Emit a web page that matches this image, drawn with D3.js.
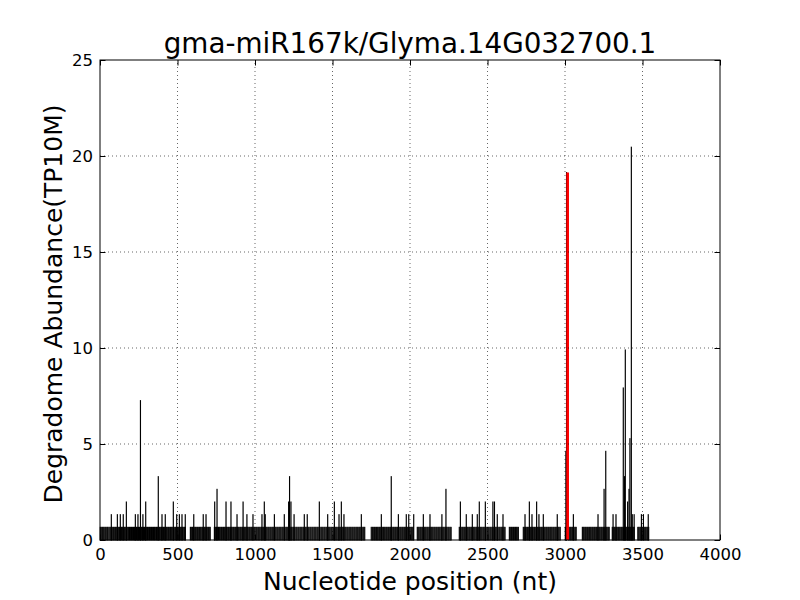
<!DOCTYPE html>
<html><head><meta charset="utf-8">
<script src="https://cdn.jsdelivr.net/npm/d3@7"></script>
<style>body{margin:0;background:#fff}</style>
</head><body>
<svg id="c" width="800" height="600"></svg>
<script>
const chartTitle = "gma-miR167k/Glyma.14G032700.1";
const xLabel = "Nucleotide position (nt)";
const yLabel = "Degradome Abundance(TP10M)";
const xTicks = [0, 500, 1000, 1500, 2000, 2500, 3000, 3500, 4000];
const yTicks = [0, 5, 10, 15, 20, 25];

// positions carrying a single read (abundance 0.66 TP10M)
const baseAbundance = 0.66;
const basePositions = [
  2,8,15,21,27,34,40,47,52,59,66,73,79,86,92,99,
  105,112,118,125,131,138,144,150,157,163,170,176,183,190,196,
  203,209,216,222,228,235,241,248,255,261,267,274,280,287,293,299,
  306,312,319,325,332,338,345,351,357,364,370,376,383,389,396,
  402,409,415,421,428,434,441,447,454,460,466,473,479,486,492,499,
  505,511,518,524,531,537,544,550,583,589,596,
  602,608,615,621,628,634,641,647,653,660,666,673,679,686,692,699,
  705,711,738,744,751,757,764,770,776,783,789,796,
  802,808,815,821,828,834,841,847,853,860,866,873,879,886,892,898,
  905,911,918,924,931,937,943,950,956,963,969,976,982,988,995,
  1001,1008,1014,1021,1027,1033,1040,1046,1053,1059,1066,1072,1078,1085,1091,1098,
  1104,1111,1117,1123,1130,1136,1143,1149,1156,1162,1168,1175,1181,1188,1194,
  1201,1207,1213,1220,1226,1233,1239,1246,1252,1258,1265,1271,1278,1284,1291,1297,
  1303,1310,1316,1323,1329,1336,1342,1348,1355,1361,1368,1374,1381,1387,1393,
  1400,1406,1413,1419,1426,1432,1438,1445,1451,1458,1464,1471,1477,1483,1490,1496,
  1503,1509,1516,1522,1528,1535,1541,1548,1554,1561,1567,1573,1580,1586,1593,1599,
  1606,1612,1618,1625,1631,1638,1644,1651,1657,1663,1670,1676,1683,1689,1696,
  1702,1708,1750,1757,1763,1770,1776,1783,1789,1795,
  1802,1808,1815,1821,1828,1834,1840,1847,1853,1860,1866,1873,1879,1885,1892,1898,
  1905,1911,1918,1924,1930,1937,1943,1950,1956,1963,1969,1975,1982,1988,1995,
  2001,2008,2014,2020,2047,2053,2059,2066,2072,2079,2085,2092,2098,
  2104,2111,2117,2124,2130,2137,2143,2149,2156,2162,2169,2175,2182,2188,2194,
  2201,2207,2214,2220,2227,2233,2239,2246,2252,2259,2265,
  2318,2324,2330,2337,2343,2350,2356,2363,2369,2375,2382,2388,2395,
  2401,2408,2414,2420,2427,2433,2440,2446,2453,2459,2465,2472,2478,2485,2491,2498,
  2504,2510,2517,2523,2530,2536,2543,2549,2555,2562,2568,2575,2581,2588,2594,
  2600,2607,2613,2641,2647,2654,2660,2667,2673,2680,2686,2692,2699,
  2731,2737,2744,2750,2757,2763,2770,2776,2782,2789,2795,
  2802,2808,2815,2821,2827,2834,2840,2847,2853,2860,2866,2872,2879,2885,2892,2898,
  2905,2911,2917,2924,2930,2937,2943,2950,2956,2962,2969,
  3002,3008,3021,3027,3034,3040,3047,3053,3059,3066,3072,
  3112,3118,3124,3131,3137,3144,3150,3157,3163,3169,3176,3182,3189,3195,
  3202,3208,3214,3221,3227,3234,3240,3247,3253,3259,3266,3272,3279,3285,
  3305,3311,3318,3324,3331,3337,3344,3350,3356,3363,3369,3376,3382,3389,3395,
  3401,3408,3414,3421,3427,3434,3440,3446,3470,3476,3483,3489,3496,
  3502,3509,3515,3521,3528,3534,3540
];

// positions with more than one read
const spikePositions = [
  73,112,131,150,170,228,245,261,277,295,376,400,421,473,495,512,529,550,605,666,684,740,755,
  813,845,884,923,948,987,1045,1060,1066,1125,1189,1217,1223,1232,1252,1318,1337,1415,1469,
  1512,1542,1557,1574,1686,1815,1879,1925,1976,1992,2024,2086,2129,2206,2232,2325,2363,2402,
  2434,2447,2486,2535,2545,2563,2600,2742,2770,2787,2817,2832,2860,2950,3006,3010,3054,3213,
  3252,3263,3310,3329,3376,3384,3389,3404,3413,3419,3428,3434,3446,3493,3506,3537
];
const spikeValues = [
  1.32,1.32,1.32,1.32,1.98,1.32,1.32,7.26,1.32,1.98,3.3,1.32,1.32,1.98,1.32,1.32,1.32,1.32,1.32,1.32,1.32,1.98,2.64,
  1.98,1.98,1.32,1.98,1.32,1.32,1.32,1.98,1.32,1.32,1.32,1.98,3.3,1.98,1.32,1.32,1.32,1.98,1.32,
  1.98,1.32,1.98,1.32,1.32,1.32,3.3,1.32,1.32,1.32,1.32,1.32,1.32,1.32,2.64,1.98,1.32,1.32,
  1.32,1.98,1.98,1.98,1.98,1.32,1.32,1.32,1.98,1.32,1.98,1.32,1.32,1.32,4.62,19.14,1.32,1.32,
  2.64,4.62,1.32,1.32,7.92,3.3,9.9,1.98,2.64,5.28,20.46,1.32,1.32,1.32,1.32,1.32
];

// predicted cleavage site
const cleavePosition = 3017;
const cleaveValue = 19.14;

const W = 800, H = 600;
const m = {left: 100, right: 80, top: 60, bottom: 60};
const svg = d3.select("#c");
const FONT = "DejaVu Sans, sans-serif";

const x = d3.scaleLinear().domain([0, 4000]).range([m.left, W - m.right]);
const y = d3.scaleLinear().domain([0, 25]).range([H - m.bottom, m.top]);

const bars = basePositions.map(p => ({p, v: baseAbundance}))
  .concat(spikePositions.map((p, i) => ({p, v: spikeValues[i]})));

const g = svg.append("g");
const bw = x(1) - x(0);
g.selectAll("rect.bar").data(bars).enter().append("rect")
  .attr("class", "bar")
  .attr("x", d => x(d.p) - bw / 2)
  .attr("width", bw)
  .attr("y", d => y(d.v))
  .attr("height", d => y(0) - y(d.v))
  .attr("fill", "#000")
  .attr("stroke", "#000")
  .attr("stroke-width", 1);

g.append("rect")
  .attr("x", x(cleavePosition) - 1.35)
  .attr("width", 2.7)
  .attr("y", y(cleaveValue))
  .attr("height", y(0) - y(cleaveValue))
  .attr("fill", "#ff0000");

// grid (drawn over bars)
const grid = svg.append("g").attr("stroke", "#000").attr("stroke-width", 0.6)
  .attr("stroke-dasharray", "1,3").attr("fill", "none");
grid.selectAll("line.gx").data(xTicks.slice(1, -1)).enter().append("line")
  .attr("x1", d => x(d)).attr("x2", d => x(d)).attr("y1", y(0)).attr("y2", y(25));
grid.selectAll("line.gy").data(yTicks.slice(1, -1)).enter().append("line")
  .attr("y1", d => y(d)).attr("y2", d => y(d)).attr("x1", x(0)).attr("x2", x(4000));

// axes with inward ticks on all sides
const tl = 5.5;
function styleAxis(sel) {
  sel.select(".domain").remove();
  sel.selectAll(".tick line").attr("stroke", "#000").attr("stroke-width", 1);
  sel.selectAll(".tick text").attr("font-family", FONT).attr("font-size", "16.5px").attr("fill", "#000");
}
svg.append("g").attr("transform", `translate(0,${y(0)})`)
  .call(d3.axisBottom(x).tickValues(xTicks).tickFormat(d3.format("d")).tickSizeInner(-tl).tickSizeOuter(0).tickPadding(8))
  .call(styleAxis);
svg.append("g").attr("transform", `translate(0,${y(25)})`)
  .call(d3.axisTop(x).tickValues(xTicks).tickFormat("").tickSizeInner(-tl).tickSizeOuter(0))
  .call(styleAxis);
svg.append("g").attr("transform", `translate(${x(0)},0)`)
  .call(d3.axisLeft(y).tickValues(yTicks).tickFormat(d3.format("d")).tickSizeInner(-tl).tickSizeOuter(0).tickPadding(7))
  .call(styleAxis);
svg.append("g").attr("transform", `translate(${x(4000)},0)`)
  .call(d3.axisRight(y).tickValues(yTicks).tickFormat("").tickSizeInner(-tl).tickSizeOuter(0))
  .call(styleAxis);

svg.append("rect").attr("x", x(0)).attr("y", y(25))
  .attr("width", x(4000) - x(0)).attr("height", y(0) - y(25))
  .attr("fill", "none").attr("stroke", "#000").attr("stroke-width", 1);

svg.append("text").attr("x", (x(0) + x(4000)) / 2).attr("y", 53)
  .attr("text-anchor", "middle").attr("font-family", FONT).attr("font-size", "27.8px")
  .text(chartTitle);
svg.append("text").attr("x", (x(0) + x(4000)) / 2).attr("y", 590)
  .attr("text-anchor", "middle").attr("font-family", FONT).attr("font-size", "25px")
  .text(xLabel);
svg.append("text").attr("transform", `translate(62,${(y(0) + y(25)) / 2 + 4}) rotate(-90)`)
  .attr("text-anchor", "middle").attr("font-family", FONT).attr("font-size", "25px")
  .text(yLabel);
</script>
</body></html>
